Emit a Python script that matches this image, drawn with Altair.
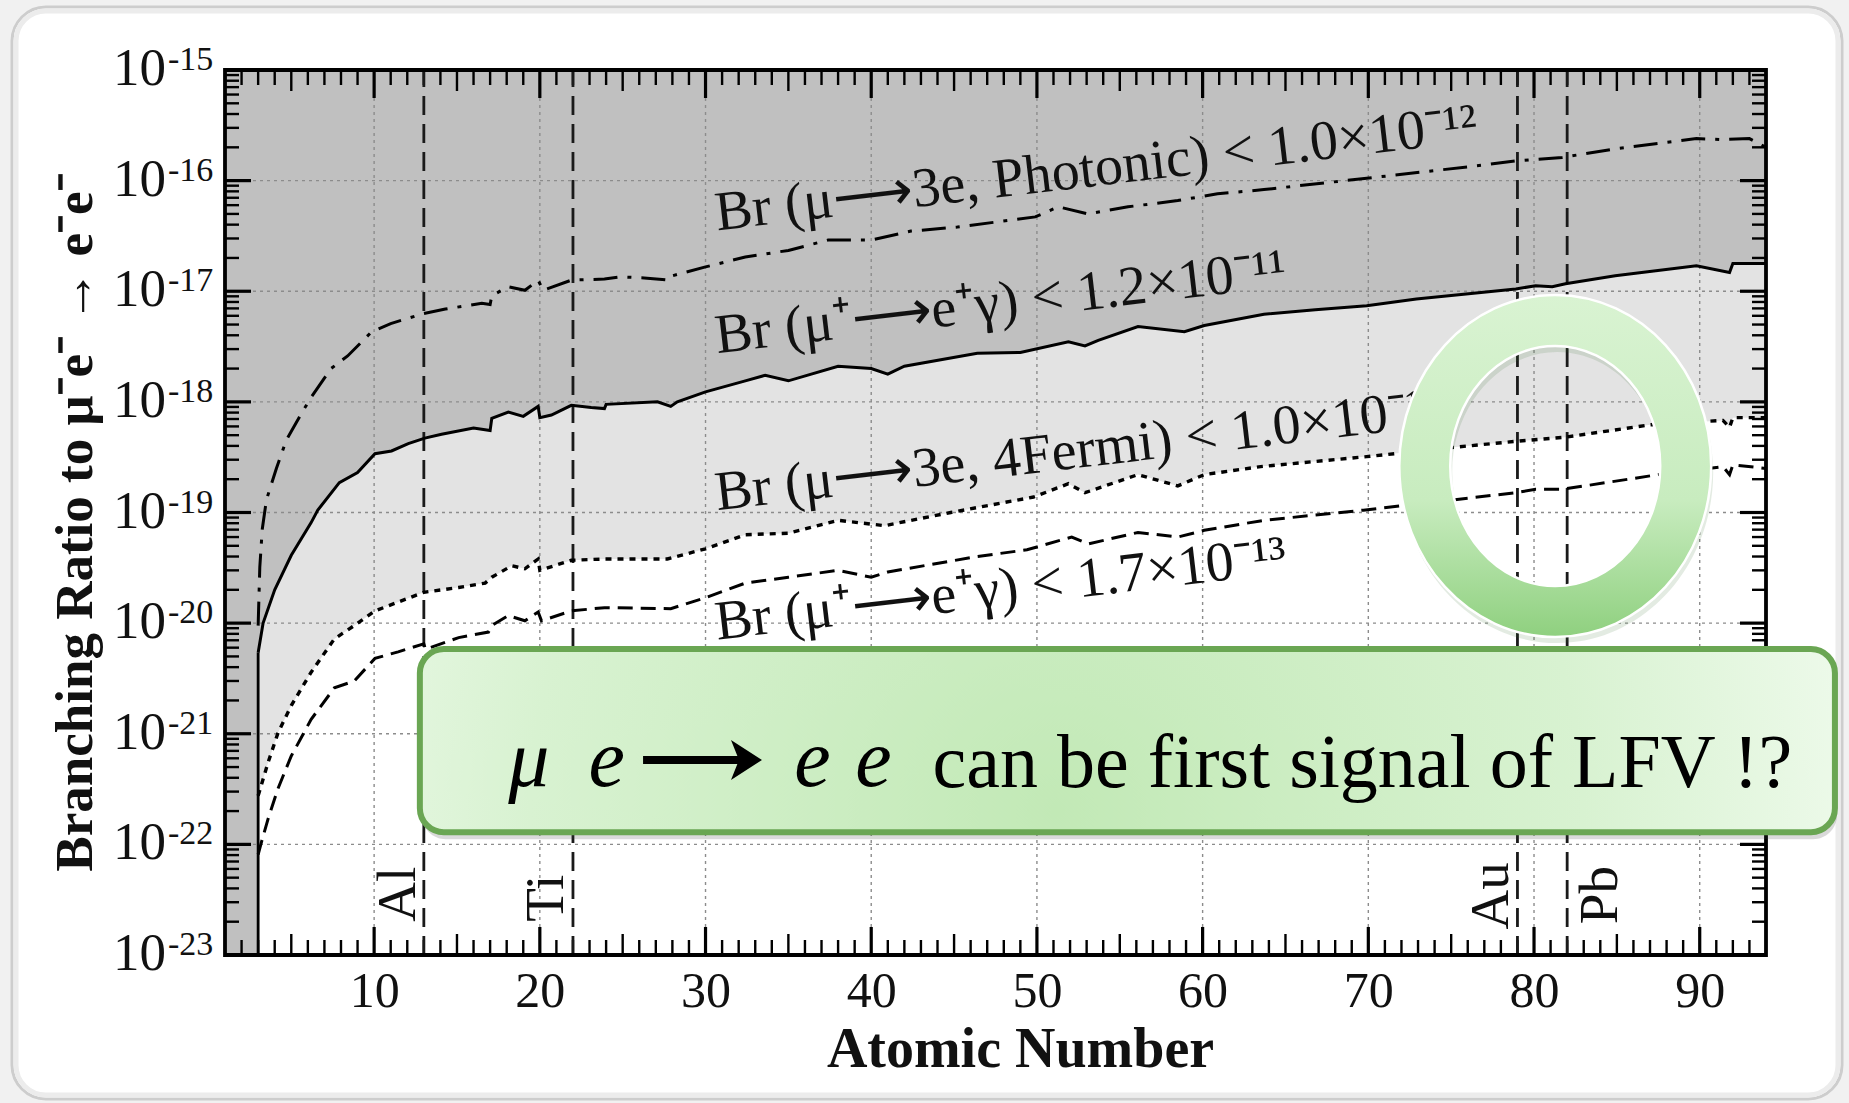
import altair as alt
import pandas as pd

# ------------------------------------------------------------------ data
# Br(mu -> 3e, Photonic) < 1.0e-12  (dash-dot curve)
photonic_z = [3.0, 3.1, 3.25, 3.5, 4.1, 4.7, 5.6, 6.2, 7.4, 8.4, 9.85, 11.0, 13.0, 14.3,
              16.5, 17.0, 17.1, 18.1, 19.1, 19.9, 20.2, 21.9, 23.9, 24.9, 26.3, 27.8, 28.0,
              30.0, 32.4, 35.0, 37.4, 40.0, 42.4, 45.2, 49.9, 51.3, 53.1, 55.5, 58.5, 60.9,
              63.7, 69.9, 76.9, 78.9, 81.7, 85.0, 89.8, 91.4, 93.0, 94.0]
photonic_br = [9.5e-21, 3.2e-20, 7.1e-20, 1.3e-19, 2.5e-19, 4.5e-19, 7.8e-19, 1.1e-18, 2.0e-18,
               2.6e-18, 4.3e-18, 5.1e-18, 6.3e-18, 6.9e-18, 7.8e-18, 7.6e-18, 9.1e-18, 1.1e-17,
               1.02e-17, 1.26e-17, 1.02e-17, 1.26e-17, 1.29e-17, 1.35e-17, 1.32e-17, 1.26e-17,
               1.38e-17, 1.66e-17, 2.04e-17, 2.34e-17, 2.9e-17, 2.9e-17, 3.5e-17, 3.8e-17,
               4.7e-17, 5.8e-17, 5.0e-17, 5.8e-17, 6.6e-17, 7.6e-17, 8.3e-17, 1.05e-16,
               1.38e-16, 1.51e-16, 1.62e-16, 1.95e-16, 2.4e-16, 2.35e-16, 2.4e-16, 2.0e-16]

# Br(mu+ -> e+ gamma) < 1.2e-11  (solid curve)
meg_z = [3.0, 3.3, 4.0, 5.0, 6.2, 6.6, 7.9, 9.0, 10.05, 11.05, 12.06, 13.06, 14.07, 16.0,
         17.0, 17.1, 18.1, 19.0, 19.9, 20.0, 20.7, 21.9, 23.1, 23.9, 24.0, 27.1, 27.9, 28.3,
         30.0, 32.4, 33.6, 35.0, 38.0, 40.0, 41.0, 42.0, 46.4, 49.0, 51.9, 52.9, 53.7, 56.1,
         58.9, 60.1, 63.7, 66.8, 69.9, 72.9, 78.9, 80.1, 81.1, 81.9, 84.9, 89.8, 91.8, 92.0, 94.0]
meg_br = [5.4e-21, 1.0e-20, 2.0e-20, 4.1e-20, 8.1e-20, 1.05e-19, 1.86e-19, 2.3e-19, 3.4e-19,
          3.6e-19, 4.2e-19, 4.7e-19, 5.1e-19, 5.8e-19, 5.5e-19, 7.1e-19, 8.1e-19, 7.4e-19,
          9.1e-19, 7.2e-19, 7.6e-19, 9.3e-19, 8.9e-19, 8.7e-19, 9.5e-19, 1.0e-18, 9.1e-19,
          1.0e-18, 1.23e-18, 1.55e-18, 1.74e-18, 1.55e-18, 2.1e-18, 2.0e-18, 1.78e-18, 2.1e-18,
          2.75e-18, 2.8e-18, 3.5e-18, 3.2e-18, 3.6e-18, 4.8e-18, 4.3e-18, 4.9e-18, 6.2e-18,
          6.8e-18, 7.4e-18, 8.5e-18, 1.05e-17, 1.12e-17, 1.1e-17, 1.17e-17, 1.38e-17, 1.7e-17,
          1.48e-17, 1.78e-17, 1.78e-17]

# Br(mu -> 3e, 4Fermi) < 1.0e-12  (dotted curve)
fermi_z = [3.0, 3.6, 4.2, 5.0, 6.2, 7.6, 8.8, 10.05, 11.45, 13.0, 15.1, 16.7, 17.1, 18.3, 19.1,
           19.9, 20.0, 21.9, 23.9, 27.7, 30.0, 32.4, 35.0, 38.0, 40.8, 44.8, 49.8, 51.9, 52.9,
           56.1, 58.5, 60.1, 63.5, 69.9, 75.3, 78.9, 81.9, 87.0, 91.4, 91.8, 92.0, 94.0]
fermi_br = [2.75e-22, 5.5e-22, 1.02e-21, 1.8e-21, 3.6e-21, 7.2e-21, 9.5e-21, 1.29e-20, 1.55e-20,
            1.9e-20, 2.1e-20, 2.3e-20, 2.6e-20, 3.3e-20, 3.1e-20, 3.8e-20, 3.0e-20, 3.7e-20,
            3.8e-20, 3.8e-20, 4.7e-20, 6.3e-20, 6.5e-20, 8.5e-20, 7.6e-20, 1.0e-19, 1.38e-19,
            1.82e-19, 1.51e-19, 2.2e-19, 1.74e-19, 2.2e-19, 2.6e-19, 3.2e-19, 3.9e-19, 4.4e-19,
            4.8e-19, 6.2e-19, 6.8e-19, 5.9e-19, 7.2e-19, 7.2e-19]

# Br(mu+ -> e+ gamma) < 1.7e-13  (dashed curve)
meg2_z = [3.0, 3.2, 3.6, 4.2, 5.0, 6.2, 7.6, 8.8, 10.05, 11.45, 13.0, 13.1, 15.1, 16.9, 17.1,
          18.1, 19.1, 19.9, 20.1, 21.9, 23.9, 27.9, 30.0, 32.4, 35.0, 38.0, 40.0, 41.0, 46.4,
          49.4, 52.1, 53.1, 56.1, 58.5, 60.1, 63.7, 69.7, 78.9, 80.1, 81.7, 87.5, 91.4, 91.8,
          92.0, 94.0]
meg2_br = [8.1e-23, 1.05e-22, 1.7e-22, 3.2e-22, 6.3e-22, 1.35e-21, 2.6e-21, 3.0e-21, 4.8e-21,
           5.5e-21, 6.5e-21, 5.8e-21, 7.4e-21, 8.3e-21, 9.5e-21, 1.17e-20, 1.05e-20, 1.26e-20,
           1.05e-20, 1.29e-20, 1.38e-20, 1.35e-20, 1.7e-20, 2.3e-20, 2.6e-20, 3.0e-20, 2.6e-20,
           2.9e-20, 4.0e-20, 4.6e-20, 6.0e-20, 5.2e-20, 6.6e-20, 6.0e-20, 6.9e-20, 8.5e-20,
           1.05e-19, 1.51e-19, 1.62e-19, 1.62e-19, 2.2e-19, 2.6e-19, 2.2e-19, 2.7e-19, 2.5e-19]

# target nuclei
element_names = ["Al", "Ti", "Au", "Pb"]
element_z = [13, 22, 79, 82]

# axis values
x_label_values = [10, 20, 30, 40, 50, 60, 70, 80, 90]
y_exponents = [-15, -16, -17, -18, -19, -20, -21, -22, -23]

# curve captions
curve_captions = ["Br (\u03bc\u27f63e, Photonic) < 1.0\u00d710\u207b\u00b9\u00b2",
                  "Br (\u03bc\u207a\u27f6e\u207a\u03b3) < 1.2\u00d710\u207b\u00b9\u00b9",
                  "Br (\u03bc\u27f63e, 4Fermi) < 1.0\u00d710\u207b\u00b9\u00b2",
                  "Br (\u03bc\u207a\u27f6e\u207a\u03b3) < 1.7\u00d710\u207b\u00b9\u00b3"]

# ------------------------------------------------------------------ layout / style
W, H = 1541, 885
PAD = {"left": 225, "top": 70, "right": 83, "bottom": 148}
ZMIN, ZMAX = 1, 94
BMIN, BMAX = 1e-23, 1e-15
PXZ = W / (ZMAX - ZMIN)      # pixels per unit of Z
PXDEC = H / 8.0              # pixels per decade
SERIF = "Liberation Serif"

xs = alt.Scale(domain=[ZMIN, ZMAX], nice=False, zero=False)
ys = alt.Scale(type="log", domain=[BMIN, BMAX], nice=False)

AX_X = alt.Axis(values=x_label_values, title="Atomic Number", grid=False, ticks=False,
                tickSize=0, domain=False, labelFont=SERIF, labelFontSize=50, labelColor="#111",
                labelPadding=11, titleFont=SERIF, titleFontSize=56, titleFontWeight="bold",
                titleColor="#111", titleX=795, titleY=111, titleBaseline="alphabetic",
                titleAlign="center", zindex=2)
AX_Y = alt.Axis(labels=False, ticks=False, tickSize=0, domain=False, grid=False,
                title="Branching Ratio to \u03bc\u207be\u207b \u2192 e\u207be\u207b",
                titleFont=SERIF, titleFontSize=53, titleFontWeight="bold", titleColor="#111",
                titleX=-150, titleY=452, titleAngle=270, titleAlign="center",
                titleBaseline="middle", zindex=2)


def X(f="Z"):
    return alt.X(f, type="quantitative", scale=xs, axis=AX_X)


def Y(f="BR"):
    return alt.Y(f, type="quantitative", scale=ys, axis=AX_Y)


def dec(b, px):
    """move a log-scale value by px pixels (positive = up)"""
    return b * 10 ** (px / PXDEC)


df_photonic = pd.DataFrame({"Z": photonic_z, "BR": photonic_br})
df_meg = pd.DataFrame({"Z": meg_z, "BR": meg_br})
df_fermi = pd.DataFrame({"Z": fermi_z, "BR": fermi_br})
df_meg2 = pd.DataFrame({"Z": meg2_z, "BR": meg2_br})

layers = []

# slide card (annotation, placed in data units around the figure)
card = pd.DataFrame({"z1": [ZMIN - 213 / PXZ], "z2": [ZMAX + 76 / PXZ],
                     "b1": [dec(BMAX, 63)], "b2": [dec(BMIN, -144)]})
layers.append(alt.Chart(card).mark_rect(cornerRadius=34, fill="white", stroke="#cdcdcd",
                                        strokeWidth=3).encode(
    x=X("z1"), x2="z2", y=Y("b1"), y2="b2"))
card_in = pd.DataFrame({"z1": [ZMIN - 209 / PXZ], "z2": [ZMAX + 72 / PXZ],
                        "b1": [dec(BMAX, 59)], "b2": [dec(BMIN, -140)]})
layers.append(alt.Chart(card_in).mark_rect(cornerRadius=30, fillOpacity=0, stroke="#ececec",
                                           strokeWidth=5).encode(
    x=X("z1"), x2="z2", y=Y("b1"), y2="b2"))

# plot background (dark grey = excluded region)
bg = pd.DataFrame({"z1": [ZMIN], "z2": [ZMAX], "b1": [BMIN], "b2": [BMAX]})
layers.append(alt.Chart(bg).mark_rect(fill="#c0c0c0").encode(
    x=X("z1"), x2="z2", y=Y("b1"), y2="b2"))

# light grey region below the MEG (1.2e-11) curve, white below the 4Fermi curve
layers.append(alt.Chart(df_meg).mark_area(color="#e3e3e3", opacity=1).encode(
    x=X(), y=Y(), y2=alt.datum(BMIN)))
layers.append(alt.Chart(df_fermi).mark_area(color="white", opacity=1).encode(
    x=X(), y=Y(), y2=alt.datum(BMIN)))

# grid
gx = pd.DataFrame({"Z": x_label_values})
layers.append(alt.Chart(gx).mark_rule(color="#8c8c8c", strokeWidth=1.4, strokeDash=[3, 4]).encode(
    x=X(), y=alt.datum(BMIN), y2=alt.datum(BMAX)))
gy = pd.DataFrame({"BR": [10.0 ** e for e in y_exponents[1:-1]]})
layers.append(alt.Chart(gy).mark_rule(color="#8c8c8c", strokeWidth=1.4, strokeDash=[3, 4]).encode(
    y=Y(), x=alt.datum(ZMIN), x2=alt.datum(ZMAX)))

# inner ticks on all four sides
rows = []
for k in range(2, ZMAX):
    L = 28 if k % 10 == 0 else (21 if k % 5 == 0 else 15)
    w = 3.2 if k % 10 == 0 else 2.4
    rows.append((k, k, BMIN, dec(BMIN, L), w))
    rows.append((k, k, BMAX, dec(BMAX, -L), w))
for e in range(-23, -15):
    for m in range(1, 10):
        v = m * 10.0 ** e
        L = 26 if m == 1 else 14
        w = 3.2 if m == 1 else 2.4
        rows.append((ZMIN, ZMIN + L / PXZ, v, v, w))
        rows.append((ZMAX - L / PXZ, ZMAX, v, v, w))
ticks = pd.DataFrame(rows, columns=["z1", "z2", "b1", "b2", "w"])
layers.append(alt.Chart(ticks).mark_rule(color="black").encode(
    x=X("z1"), x2="z2", y=Y("b1"), y2="b2",
    strokeWidth=alt.StrokeWidth("w", type="quantitative", scale=None)))

# nucleus markers
df_el = pd.DataFrame({"Z": element_z, "name": element_names})
layers.append(alt.Chart(df_el).mark_rule(color="#1a1a1a", strokeWidth=2.8, strokeDash=[19, 9]).encode(
    x=X(), y=alt.datum(BMIN), y2=alt.datum(BMAX)))
el_lab = pd.DataFrame({"Z": [12.45, 21.4, 78.4, 85.0], "BR": [2.0e-23, 2.0e-23, 1.7e-23, 1.9e-23],
                       "name": element_names})
layers.append(alt.Chart(el_lab).mark_text(angle=270, align="left", baseline="alphabetic",
                                          font=SERIF, fontSize=55, color="#111").encode(
    x=X(), y=Y(), text="name:N"))

# curves
left_edge = pd.DataFrame({"z": [meg_z[0]], "b1": [BMIN], "b2": [meg_br[0]]})
layers.append(alt.Chart(left_edge).mark_rule(color="black", strokeWidth=2.8).encode(
    x=X("z"), y=Y("b1"), y2="b2"))
layers.append(alt.Chart(df_photonic).mark_line(color="black", strokeWidth=3,
                                               strokeDash=[24, 10, 4, 10]).encode(x=X(), y=Y()))
layers.append(alt.Chart(df_meg).mark_line(color="black", strokeWidth=3).encode(x=X(), y=Y()))
layers.append(alt.Chart(df_fermi).mark_line(color="black", strokeWidth=3.4,
                                            strokeDash=[6, 6]).encode(x=X(), y=Y()))
layers.append(alt.Chart(df_meg2).mark_line(color="black", strokeWidth=3,
                                           strokeDash=[15, 8]).encode(x=X(), y=Y()))

# curve captions
cap = pd.DataFrame({"Z": [30.7, 30.7, 30.7, 30.7],
                    "BR": [10 ** -16.45, 10 ** -17.56, 10 ** -18.98, 10 ** -20.15],
                    "t": curve_captions})
layers.append(alt.Chart(cap).mark_text(angle=353.3, align="left", baseline="alphabetic",
                                       font=SERIF, fontSize=56, color="#111").encode(
    x=X(), y=Y(), text="t:N"))

# frame
layers.append(alt.Chart(bg).mark_rect(fillOpacity=0, stroke="black", strokeWidth=3.8).encode(
    x=X("z1"), x2="z2", y=Y("b1"), y2="b2"))

# y tick labels 10^-n
ylab = pd.DataFrame({"BR": [10.0 ** e for e in y_exponents],
                     "exp": [str(e) for e in y_exponents]})
layers.append(alt.Chart(ylab).mark_text(align="right", baseline="alphabetic", dx=-59, dy=15,
                                        font=SERIF, fontSize=53, color="#111").encode(
    y=Y(), x=alt.value(0), text=alt.value("10")))
layers.append(alt.Chart(ylab).mark_text(align="left", baseline="alphabetic", dx=-57, dy=0,
                                        font=SERIF, fontSize=34, color="#111").encode(
    y=Y(), x=alt.value(0), text="exp:N"))

# ---------------- call-outs: green ring and green message box
k = 0.5523


def ellipse(rx, ry, cw=True):
    if cw:
        return (f"M 0 {-ry} C {k*rx:.4f} {-ry} {rx} {-k*ry:.4f} {rx} 0 "
                f"C {rx} {k*ry:.4f} {k*rx:.4f} {ry} 0 {ry} "
                f"C {-k*rx:.4f} {ry} {-rx} {k*ry:.4f} {-rx} 0 "
                f"C {-rx} {-k*ry:.4f} {-k*rx:.4f} {-ry} 0 {-ry} Z ")
    return (f"M 0 {-ry} C {-k*rx:.4f} {-ry} {-rx} {-k*ry:.4f} {-rx} 0 "
            f"C {-rx} {k*ry:.4f} {-k*rx:.4f} {ry} 0 {ry} "
            f"C {k*rx:.4f} {ry} {rx} {k*ry:.4f} {rx} 0 "
            f"C {rx} {-k*ry:.4f} {k*rx:.4f} {-ry} 0 {-ry} Z")


RING = ellipse(0.912, 1.0, True) + ellipse(0.614, 0.702, False)
ring = pd.DataFrame({"Z": [81.28], "BR": [10 ** -18.58]})
layers.append(alt.Chart(ring).mark_point(shape=RING, size=342 ** 2, filled=True, fill="#3c6e35",
                                         fillOpacity=0.14, strokeOpacity=0, opacity=1,
                                         xOffset=2, yOffset=6).encode(x=X(), y=Y()))
layers.append(alt.Chart(ring).mark_point(
    shape=RING, size=342 ** 2, filled=True, opacity=1, fillOpacity=1,
    fill=alt.LinearGradient(gradient="linear", x1=0, y1=0, x2=0, y2=1, stops=[
        alt.GradientStop(offset=0, color="#d9f3d2"),
        alt.GradientStop(offset=0.6, color="#c8ecbf"),
        alt.GradientStop(offset=1, color="#8fd07f")]),
    stroke="white", strokeWidth=2.5).encode(x=X(), y=Y()))

box = pd.DataFrame({"z1": [12.76], "z2": [98.16], "b1": [10 ** -20.235], "b2": [10 ** -21.89]})
layers.append(alt.Chart(box).mark_rect(cornerRadius=24, fill="#404040", opacity=0.2,
                                       yOffset=7, y2Offset=7, xOffset=2, x2Offset=2).encode(
    x=X("z1"), x2="z2", y=Y("b1"), y2="b2"))
layers.append(alt.Chart(box).mark_rect(
    cornerRadius=24, stroke="#6aa653", strokeWidth=6, opacity=1,
    fill=alt.RadialGradient(gradient="radial", x1=0.45, y1=0.55, x2=0.45, y2=0.55, r1=0, r2=0.62,
                            stops=[alt.GradientStop(offset=0, color="#c2e9b6"),
                                   alt.GradientStop(offset=0.6, color="#d8f2d1"),
                                   alt.GradientStop(offset=1, color="#f3fcf1")])).encode(
    x=X("z1"), x2="z2", y=Y("b1"), y2="b2"))

# message text
math_txt = pd.DataFrame({"Z": [19.34, 24.04, 36.46, 40.14],
                         "BR": [10 ** -21.47] * 4,
                         "t": ["\u03bc", "e", "e", "e"]})
layers.append(alt.Chart(math_txt).mark_text(align="center", baseline="alphabetic", font=SERIF,
                                            fontStyle="italic", fontSize=82, color="black").encode(
    x=X(), y=Y(), text="t:N"))
arrow = pd.DataFrame({"z1": [26.23], "z2": [32.4], "BR": [10 ** -21.237]})
layers.append(alt.Chart(arrow).mark_rule(color="black", strokeWidth=8).encode(
    x=X("z1"), x2="z2", y=Y()))
head = pd.DataFrame({"Z": [32.2], "BR": [10 ** -21.237]})
layers.append(alt.Chart(head).mark_point(shape="M -0.55 -1 L 1 0 L -0.55 1 L -0.15 0 Z",
                                         size=1600, filled=True, color="black", opacity=1).encode(
    x=X(), y=Y()))
msg = pd.DataFrame({"Z": [43.7], "BR": [10 ** -21.48], "t": ["can be first signal of LFV !?"]})
layers.append(alt.Chart(msg).mark_text(align="left", baseline="alphabetic", font=SERIF,
                                       fontSize=76, color="black").encode(
    x=X(), y=Y(), text="t:N"))

chart = alt.layer(*layers).properties(
    width=W, height=H, padding=PAD, autosize=alt.AutoSizeParams(type="none"),
    background="#f1f1f1",
).configure_view(strokeWidth=0)

chart.save("out.html", embed_options={"renderer": "svg", "actions": False})
